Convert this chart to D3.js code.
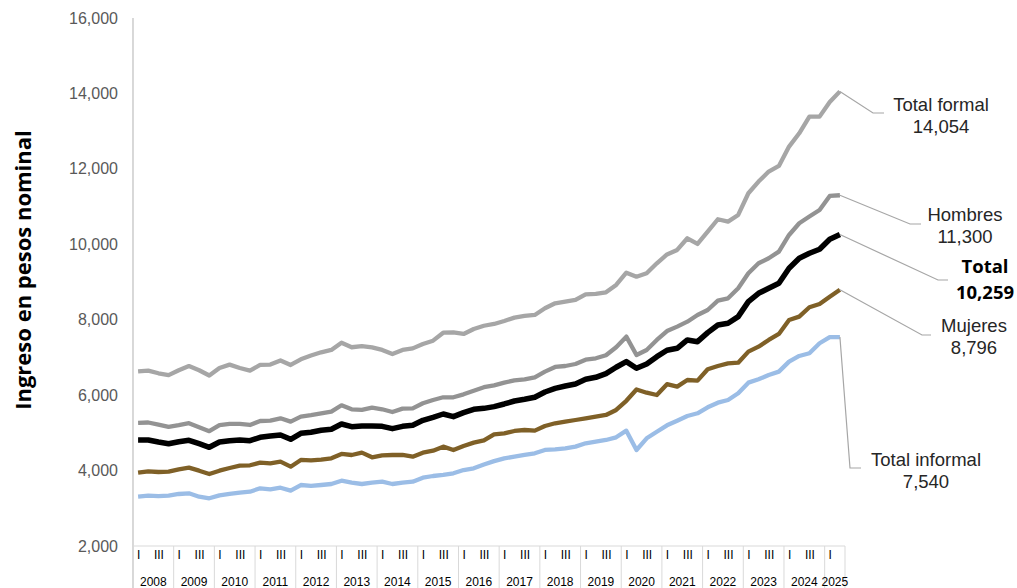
<!DOCTYPE html>
<html>
<head>
<meta charset="utf-8">
<script src="https://cdn.jsdelivr.net/npm/d3@7"></script>
<style>
  body { margin: 0; background: #fff; }
</style>
</head>
<body>
<div id="chart"></div>
<script>

console.log("Starting ingreso chart")

// Categories: quarters 2008-I .. 2025-II
var years = [2008, 2009, 2010, 2011, 2012, 2013, 2014, 2015, 2016, 2017, 2018, 2019, 2020, 2021, 2022, 2023, 2024, 2025];
var quarterNames = ["I", "", "III", ""];
var lastYearQuarters = 2;

var yTicks = [2000, 4000, 6000, 8000, 10000, 12000, 14000, 16000];

// series values (pesos nominal), one per quarter
var totalFormal = [6630, 6650, 6580, 6530, 6660, 6770, 6660, 6520, 6720, 6810, 6720, 6650, 6800, 6810, 6920, 6800,
  6950, 7050, 7136, 7198, 7390, 7270, 7300, 7268, 7200, 7090, 7200, 7240, 7356, 7444, 7656, 7665,
  7622, 7754, 7840, 7887, 7967, 8055, 8099, 8126, 8303, 8436, 8479, 8523, 8674, 8683, 8728, 8921,
  9248, 9141, 9231, 9496, 9730, 9850, 10160, 10009, 10336, 10664, 10601, 10778, 11353, 11663, 11928, 12077,
  12590, 12943, 13385, 13385, 13770, 14054];

var hombres = [5265, 5275, 5220, 5160, 5205, 5257, 5150, 5045, 5204, 5240, 5240, 5209, 5315, 5324, 5386, 5297,
  5430, 5470, 5519, 5562, 5731, 5625, 5607, 5669, 5625, 5553, 5642, 5651, 5784, 5872, 5943, 5943,
  6022, 6118, 6210, 6260, 6331, 6393, 6420, 6473, 6623, 6747, 6773, 6826, 6941, 6977, 7057, 7269,
  7551, 7064, 7198, 7463, 7700, 7817, 7948, 8126, 8258, 8505, 8568, 8833, 9231, 9496, 9629, 9805,
  10247, 10558, 10735, 10910, 11282, 11300];

var total = [4811, 4811, 4758, 4713, 4766, 4803, 4713, 4617, 4758, 4793, 4811, 4793, 4882, 4917, 4944, 4829,
  4988, 5015, 5068, 5095, 5235, 5164, 5182, 5182, 5173, 5111, 5173, 5200, 5333, 5413, 5500, 5430,
  5536, 5625, 5650, 5695, 5766, 5845, 5890, 5943, 6084, 6181, 6243, 6296, 6420, 6473, 6570, 6739,
  6888, 6712, 6826, 7020, 7190, 7242, 7463, 7418, 7657, 7860, 7905, 8081, 8479, 8700, 8833, 8966,
  9363, 9629, 9761, 9867, 10133, 10259];

var mujeres = [3944, 3980, 3962, 3971, 4034, 4077, 3997, 3909, 3997, 4068, 4130, 4140, 4210, 4193, 4236, 4103,
  4281, 4270, 4290, 4325, 4440, 4413, 4475, 4352, 4405, 4413, 4413, 4369, 4475, 4528, 4634, 4546,
  4652, 4740, 4800, 4961, 4988, 5050, 5076, 5058, 5182, 5254, 5297, 5341, 5386, 5430, 5474, 5607,
  5850, 6150, 6065, 6004, 6290, 6225, 6402, 6384, 6686, 6773, 6844, 6861, 7153, 7285, 7463, 7622,
  7993, 8081, 8330, 8417, 8611, 8796];

var totalInformal = [3307, 3334, 3320, 3334, 3379, 3397, 3307, 3265, 3344, 3379, 3414, 3440, 3530, 3503, 3546, 3467,
  3617, 3595, 3617, 3644, 3732, 3679, 3644, 3679, 3706, 3644, 3679, 3706, 3812, 3856, 3883, 3927,
  4015, 4060, 4160, 4250, 4325, 4369, 4413, 4458, 4546, 4564, 4590, 4634, 4723, 4766, 4811, 4882,
  5058, 4546, 4856, 5031, 5200, 5323, 5447, 5519, 5677, 5800, 5872, 6049, 6331, 6420, 6535, 6623,
  6888, 7038, 7110, 7375, 7540, 7540];

var seriesNames = ["Total formal", "Hombres", "Mujeres", "Total informal", "Total"];


// build quarter categories
var categories = [];
years.forEach(function (yr, k) {
  let nq = (k == years.length - 1) ? lastYearQuarters : 4;
  for (let q = 0; q < nq; q++) {
    categories.push({ year: yr, q: q, label: quarterNames[q] });
  }
});

var width = 1017, height = 588;

var svg = d3.select("#chart")
  .append("svg")
  .attr("width", width)
  .attr("height", height);

var x = d3.scaleLinear()
  .domain([-0.5, categories.length - 0.5])
  .range([133, 845]);

var y = d3.scaleLinear()
  .domain([2000, 16000])
  .range([546, 18]);

var fmt = d3.format(",");

//
// ###### Axes
//

// y axis labels
var yAxis = svg.append("g")
  .attr("transform", "translate(133,0)")
  .call(d3.axisLeft(y).tickValues(yTicks).tickSize(0).tickPadding(15).tickFormat(fmt));
yAxis.select(".domain").remove();
yAxis.selectAll("text")
  .style("font-family", "Liberation Sans, Arial, sans-serif")
  .style("font-size", "16px")
  .attr("fill", "#595959");

// y axis line
svg.append("line")
  .attr("x1", 133).attr("x2", 133)
  .attr("y1", 18).attr("y2", height)
  .attr("stroke", "#bfbfbf")
  .attr("stroke-width", 1.2);

// x axis line
svg.append("line")
  .attr("x1", 133).attr("x2", x(categories.length - 0.5))
  .attr("y1", y(2000)).attr("y2", y(2000))
  .attr("stroke", "#d9d9d9");

// quarter labels
var xAxis = svg.append("g")
  .attr("transform", "translate(0," + y(2000) + ")")
  .call(d3.axisBottom(x)
    .tickValues(d3.range(categories.length))
    .tickSize(0)
    .tickPadding(4)
    .tickFormat(function (i) { return categories[i].label; }));
xAxis.select(".domain").remove();
xAxis.selectAll("text")
  .style("font-family", "Liberation Sans, Arial, sans-serif")
  .style("font-size", "12px")
  .attr("fill", "#000");

// year separators + year labels
years.forEach(function (yr) {
  let idx = categories.map((c, i) => i).filter(i => categories[i].year == yr);
  let first = idx[0], last = idx[idx.length - 1];

  svg.append("line")
    .attr("x1", x(last + 0.5)).attr("x2", x(last + 0.5))
    .attr("y1", y(2000)).attr("y2", height)
    .attr("stroke", "#d9d9d9");

  svg.append("text")
    .attr("x", x((first + last) / 2))
    .attr("y", 586)
    .attr("text-anchor", "middle")
    .style("font-family", "Liberation Sans, Arial, sans-serif")
    .style("font-size", "12px")
    .attr("fill", "#000")
    .text(yr);
});

// y title
svg.append("text")
  .attr("transform", "translate(31,270) rotate(-90)")
  .attr("text-anchor", "middle")
  .style("font-family", "Open Sans, sans-serif")
  .style("font-size", "22px")
  .style("font-weight", "bold")
  .attr("fill", "#000")
  .text("Ingreso en pesos nominal");

//
// ###### Lines
//

var line = d3.line()
  .x((d, i) => x(i))
  .y(d => y(d));

var lineStyles = [
  { data: totalFormal, color: "#a6a6a6", w: 4.3 },
  { data: hombres, color: "#939393", w: 4.3 },
  { data: mujeres, color: "#7f6027", w: 4.3 },
  { data: totalInformal, color: "#9bbde6", w: 4.3 },
  { data: total, color: "#000000", w: 5.5 }
];

lineStyles.forEach(function (s) {
  svg.append("path")
    .datum(s.data)
    .attr("d", line)
    .attr("fill", "none")
    .attr("stroke", s.color)
    .attr("stroke-width", s.w)
    .attr("stroke-linejoin", "round")
    .attr("stroke-linecap", "butt");
});

//
// ###### End labels with leader lines
//

// elbow / end of leader + text placement
var labelLayout = [
  { elbow: [873, 113], end: [884, 113], tx: 941, ty1: 111, ty2: 133, bold: false },
  { elbow: [910, 224], end: [921, 224], tx: 965, ty1: 221, ty2: 243, bold: false },
  { elbow: [922, 335], end: [931, 335], tx: 974, ty1: 332, ty2: 354, bold: false },
  { elbow: [850, 468], end: [861, 468], tx: 926, ty1: 466, ty2: 488, bold: false },
  { elbow: [938, 280], end: [948, 280], tx: 985, ty1: 273, ty2: 299, bold: true }
];

lineStyles.forEach(function (s, i) {
  let L = labelLayout[i];
  let n = s.data.length - 1;
  let px = x(n), py = y(s.data[n]);

  svg.append("polyline")
    .attr("points", [[px, py], L.elbow, L.end].map(p => p.join(",")).join(" "))
    .attr("fill", "none")
    .attr("stroke", "#a6a6a6")
    .attr("stroke-width", 1.2);

  let font = L.bold ? "Open Sans, sans-serif" : "Liberation Sans, Arial, sans-serif";

  svg.append("text")
    .attr("x", L.tx).attr("y", L.ty1)
    .attr("text-anchor", "middle")
    .style("font-family", font)
    .style("font-size", "18.5px")
    .style("font-weight", L.bold ? "bold" : "normal")
    .attr("fill", L.bold ? "#000" : "#262626")
    .text(seriesNames[i]);

  svg.append("text")
    .attr("x", L.tx).attr("y", L.ty2)
    .attr("text-anchor", "middle")
    .style("font-family", font)
    .style("font-size", "18.5px")
    .style("font-weight", L.bold ? "bold" : "normal")
    .attr("fill", L.bold ? "#000" : "#262626")
    .text(fmt(s.data[n]));
});

</script>
</body>
</html>
